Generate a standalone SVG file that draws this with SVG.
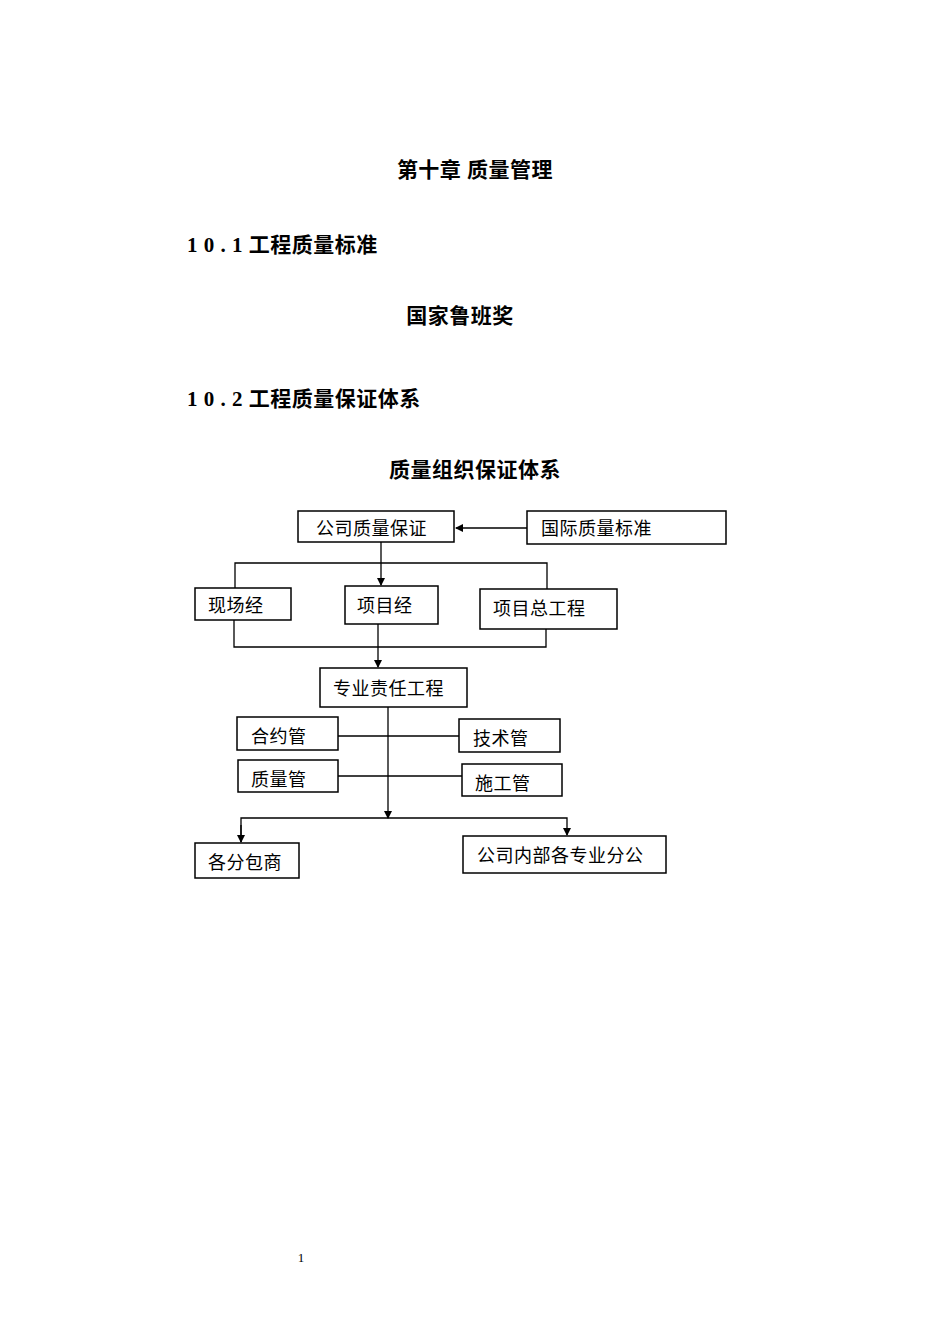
<svg xmlns="http://www.w3.org/2000/svg" width="950" height="1344" viewBox="0 0 950 1344" xml:space="preserve">
<style>
.h{font-family:"Liberation Serif","Noto Sans CJK SC",serif;font-weight:bold;font-size:21px;fill:#000;letter-spacing:0.5px}
.t{font-family:"Liberation Serif","Noto Sans CJK SC",serif;font-size:18px;fill:#000;letter-spacing:0.5px}
rect{fill:#fff;stroke:#000;stroke-width:1.5}
.c line,.c path{stroke:#000;stroke-width:1.3;fill:none}
</style>
<defs><marker id="a" markerWidth="8" markerHeight="8" refX="7" refY="4" orient="auto" markerUnits="userSpaceOnUse"><path d="M0,0L8,4L0,8z" fill="#000"/></marker></defs>
<rect x="0" y="0" width="950" height="1344" style="stroke:none"/>
<text class="h" x="475" y="177" text-anchor="middle">第十章  质量管理</text>
<text class="h" x="187" y="252">1 0 . 1   工程质量标准</text>
<text class="h" x="460" y="323" text-anchor="middle">国家鲁班奖</text>
<text class="h" x="187" y="406">1 0 . 2    工程质量保证体系</text>
<text class="h" x="475" y="477" text-anchor="middle">质量组织保证体系</text>
<g class="c">
<line x1="527" y1="528" x2="456" y2="528" marker-end="url(#a)"/>
<line x1="381" y1="542" x2="381" y2="585" marker-end="url(#a)"/>
<path d="M235,588V563H547V589"/>
<path d="M234,620V647H546V629"/>
<line x1="378" y1="624" x2="378" y2="667" marker-end="url(#a)"/>
<line x1="388" y1="707" x2="388" y2="818" marker-end="url(#a)"/>
<line x1="338" y1="736" x2="459" y2="736"/>
<line x1="338" y1="776" x2="462" y2="776"/>
<path d="M241,842V818H567V835" marker-end="url(#a)"/>
<line x1="241" y1="825" x2="241" y2="842" marker-end="url(#a)"/>
</g>
<g id="n1"><rect x="298" y="511" width="156" height="31"/><text class="t" x="316" y="535">公司质量保证</text></g>
<g id="n2"><rect x="527" y="511" width="199" height="33"/><text class="t" x="541" y="535">国际质量标准</text></g>
<g id="n3"><rect x="195" y="588" width="96" height="32"/><text class="t" x="208" y="612">现场经</text></g>
<g id="n4"><rect x="345" y="586" width="93" height="38"/><text class="t" x="357" y="612">项目经</text></g>
<g id="n5"><rect x="480" y="589" width="137" height="40"/><text class="t" x="493" y="615">项目总工程</text></g>
<g id="n6"><rect x="320" y="668" width="147" height="39"/><text class="t" x="333" y="695">专业责任工程</text></g>
<g id="n7"><rect x="237" y="717" width="101" height="33"/><text class="t" x="251" y="743">合约管</text></g>
<g id="n8"><rect x="459" y="719" width="101" height="33"/><text class="t" x="473" y="745">技术管</text></g>
<g id="n9"><rect x="238" y="760" width="100" height="32"/><text class="t" x="251" y="786">质量管</text></g>
<g id="n10"><rect x="462" y="764" width="100" height="32"/><text class="t" x="475" y="790">施工管</text></g>
<g id="n11"><rect x="195" y="843" width="104" height="35"/><text class="t" x="208" y="869">各分包商</text></g>
<g id="n12"><rect x="463" y="836" width="203" height="37"/><text class="t" x="477" y="862">公司内部各专业分公</text></g>
<text x="301" y="1262" font-family="Liberation Serif,serif" font-size="13" text-anchor="middle">1</text>
</svg>
